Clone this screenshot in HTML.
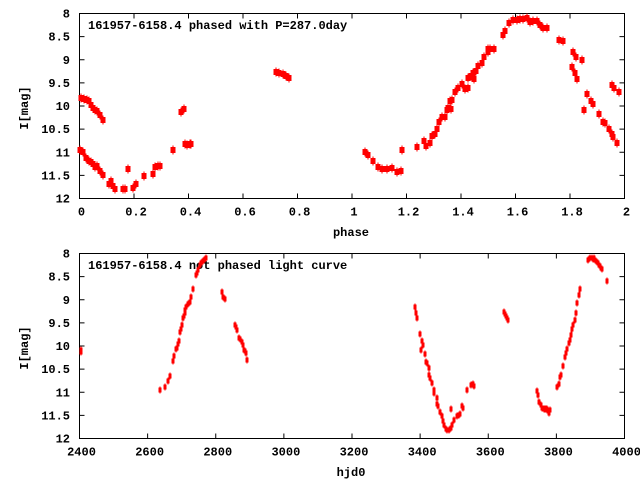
<!DOCTYPE html>
<html><head><meta charset="utf-8"><style>
body{margin:0;background:#fff}
svg{display:block}
text{font-family:"Liberation Mono","DejaVu Sans Mono",monospace;font-weight:bold;font-size:12px;fill:#000}
</style></head><body>
<svg id="s" width="640" height="480" xmlns="http://www.w3.org/2000/svg"></svg>
<script>
var s=document.getElementById('s'),h='';
function panel(top,xt,xl,title){
 var L=79.5,R=624.5,T=top+13.5,B=top+198.5;
 h+='<rect x="'+L+'" y="'+T+'" width="'+(R-L)+'" height="'+(B-T)+'" fill="none" stroke="#000" stroke-width="1"/>';
 var yl=['8','8.5','9','9.5','10','10.5','11','11.5','12'];
 for(var i=0;i<9;i++){var y=T+i*(B-T)/8;
  h+='<line x1="'+L+'" y1="'+y+'" x2="'+(L+5)+'" y2="'+y+'" stroke="#000"/><line x1="'+R+'" y1="'+y+'" x2="'+(R-5)+'" y2="'+y+'" stroke="#000"/>';
  h+='<text x="70" y="'+(y+4)+'" text-anchor="end">'+yl[i]+'</text>';}
 for(var i=0;i<xt.length;i++){var x=L+i*(R-L)/(xt.length-1);
  h+='<line x1="'+x+'" y1="'+B+'" x2="'+x+'" y2="'+(B-5)+'" stroke="#000"/><line x1="'+x+'" y1="'+T+'" x2="'+x+'" y2="'+(T+5)+'" stroke="#000"/>';
  h+='<text x="'+(x+2)+'" y="'+(B+17)+'" text-anchor="middle">'+xt[i]+'</text>';}
 h+='<text x="88" y="'+(top+29)+'">'+title+'</text>';
 h+='<text transform="translate(28,'+(top+108)+') rotate(-90)" text-anchor="middle">I[mag]</text>';
 h+='<text x="'+xl[1]+'" y="'+(top+236)+'" text-anchor="middle">'+xl[0]+'</text>';
}
panel(0,['0','0.2','0.4','0.6','0.8','1','1.2','1.4','1.6','1.8','2'],['phase',351],'161957-6158.4 phased with P=287.0day');
panel(240,['2400','2600','2800','3000','3200','3400','3600','3800','4000'],['hjd0',351],'161957-6158.4 not phased light curve');
var A=[81,98,84,99,87,100,89,101,91,105,93,108,95,110,97,111,100,115,103,120,80,150,83,152,86,158,89,161,91,162,93,164,95,167,97,166,100,171,103,175,109,184,111,181,113,186,115,189,123,189,125,189,128,169,133,188,136,184,144,176,153,174,155,167,158,166,160,166,173,150,181,112,184,109,185,144,187,145,190,144,191,144,276,72,279,73,283,74,286,76,289,78,
365,152,368,155,373,161,378,167,382,169,387,169,392,168,397,172,401,171,402,150,417,147,424,141,426,146,430,143,432,136,435,134,437,129,439,122,442,117,445,117,447,110,448,108,450,101,451,109,452,100,455,92,458,88,462,84,465,89,468,88,468,78,471,76,473,73,474,79,476,71,478,66,482,63,484,57,488,52,490,49,488,49,494,49,503,35,505,31,509,23,513,20,517,20,520,19,523,19,527,18,530,22,533,21,537,21,540,25,543,28,547,28,559,40,563,41,573,52,576,57,582,60,572,67,575,73,577,79,587,94,591,101,593,104,584,110,599,114,603,122,605,123,609,129,612,134,613,137,617,143,612,85,614,88,619,92];
for(var i=0;i<A.length;i+=2){h+='<rect x="'+(A[i]-2.5)+'" y="'+(A[i+1]-3)+'" width="5" height="6" fill="#f00"/><line x1="'+A[i]+'" y1="'+(A[i+1]-4.5)+'" x2="'+A[i]+'" y2="'+(A[i+1]+4.5)+'" stroke="#f00"/>';}
var B=[81,350,81,352,160,390,165,387,168,381,170,376,173,361,174,356,176,349,177,348,178,344,179,341,180,332,181,329,182,325,183,318,184,316,185,313,185,310,186,307,188,304,189,303,190,302,191,297,193,289,196,275,197,273,198,270,200,265,201,263,202,262,203,261,204,260,205,259,206,258,222,292,223,297,225,299,235,325,236,327,237,330,239,338,240,339,242,342,243,345,244,350,245,351,246,353,247,360,
415,307,416,313,417,318,420,334,421,350,422,341,423,345,425,354,426,362,427,363,429,368,429,375,430,378,432,383,434,390,434,393,437,398,437,404,438,406,440,412,442,416,443,421,444,425,446,429,447,430,449,430,451,428,452,425,454,420,451,409,457,416,459,415,460,414,462,406,463,408,467,390,471,385,473,384,474,386,504,312,505,314,506,316,507,318,508,320,537,391,538,395,539,402,541,405,542,408,544,409,545,409,546,409,547,409,548,411,549,413,550,410,
557,387,559,384,560,377,561,375,563,366,565,357,566,353,567,349,569,343,570,340,571,335,572,329,573,325,575,320,576,313,577,303,579,295,580,289,588,260,589,259,590,258,592,258,593,259,594,258,595,260,596,261,597,262,598,263,599,265,600,266,601,268,602,269,607,281];
for(var i=0;i<B.length;i+=2){h+='<rect x="'+(B[i]-1.5)+'" y="'+(B[i+1]-2.5)+'" width="3" height="5" fill="#f00"/><line x1="'+B[i]+'" y1="'+(B[i+1]-3.5)+'" x2="'+B[i]+'" y2="'+(B[i+1]+3.5)+'" stroke="#f00"/>';}
s.innerHTML=h;
</script>
</body></html>
